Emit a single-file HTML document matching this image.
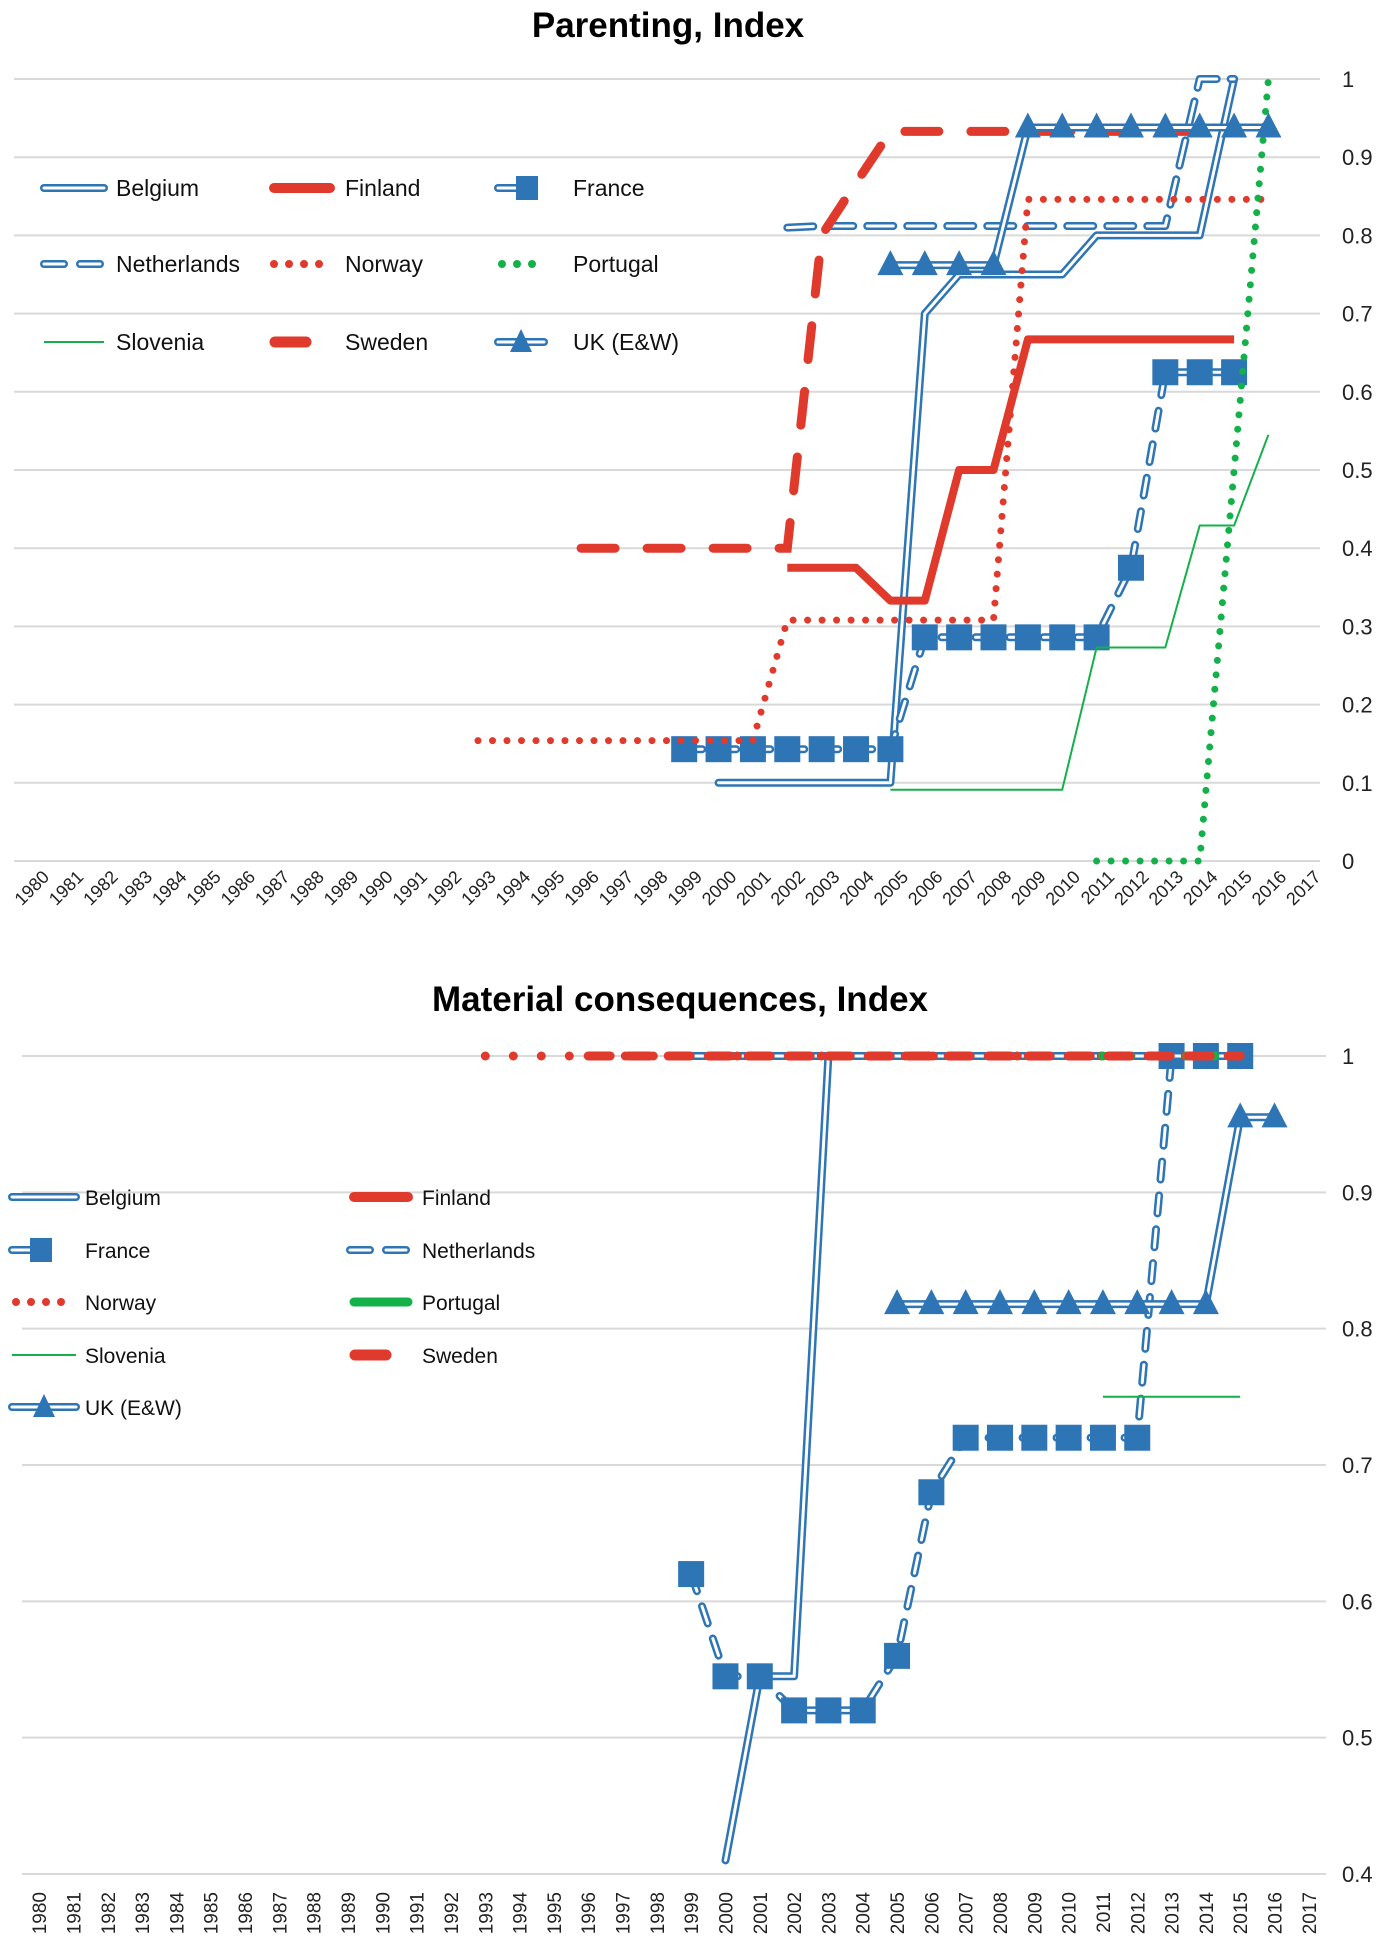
<!DOCTYPE html>
<html><head><meta charset="utf-8"><style>
html,body{margin:0;padding:0;background:#fff;}
svg{display:block;font-family:"Liberation Sans",sans-serif;}
</style></head><body>
<svg id="c" width="1379" height="1942" viewBox="0 0 1379 1942" xmlns="http://www.w3.org/2000/svg">
<text x="668" y="37" text-anchor="middle" font-size="35" font-weight="bold">Parenting, Index</text>
<text x="680" y="1011" text-anchor="middle" font-size="35" font-weight="bold">Material consequences, Index</text>
<g id="top"></g>
<g id="bot"></g>
</svg>
<script>
const years = [];
for (let yv = 1980; yv <= 2017; yv++) years.push(String(yv));
const seriesNames = ["Belgium","Finland","France","Netherlands","Norway","Portugal","Slovenia","Sweden","UK (E&W)"];
const topTicks = ["0","0.1","0.2","0.3","0.4","0.5","0.6","0.7","0.8","0.9","1"];
const botTicks = ["0.4","0.5","0.6","0.7","0.8","0.9","1"];

const pBelgium = [[2000,0.1],[2001,0.1],[2002,0.1],[2003,0.1],[2004,0.1],[2005,0.1],[2006,0.7],[2007,0.75],[2008,0.75],[2009,0.75],[2010,0.75],[2011,0.8],[2012,0.8],[2013,0.8],[2014,0.8],[2015,1.0]];
const pFinland = [[2002,0.375],[2003,0.375],[2004,0.375],[2005,0.333],[2006,0.333],[2007,0.5],[2008,0.5],[2009,0.667],[2010,0.667],[2011,0.667],[2012,0.667],[2013,0.667],[2014,0.667],[2015,0.667]];
const pFrance = [[1999,0.143],[2000,0.143],[2001,0.143],[2002,0.143],[2003,0.143],[2004,0.143],[2005,0.143],[2006,0.286],[2007,0.286],[2008,0.286],[2009,0.286],[2010,0.286],[2011,0.286],[2012,0.375],[2013,0.625],[2014,0.625],[2015,0.625]];
const pNetherlands = [[2002,0.81],[2003,0.812],[2004,0.812],[2005,0.812],[2006,0.812],[2007,0.812],[2008,0.812],[2009,0.812],[2010,0.812],[2011,0.812],[2012,0.812],[2013,0.812],[2014,1.0],[2015,1.0]];
const pNorway = [[1993,0.154],[1994,0.154],[1995,0.154],[1996,0.154],[1997,0.154],[1998,0.154],[1999,0.154],[2000,0.154],[2001,0.154],[2002,0.308],[2003,0.308],[2004,0.308],[2005,0.308],[2006,0.308],[2007,0.308],[2008,0.308],[2009,0.846],[2010,0.846],[2011,0.846],[2012,0.846],[2013,0.846],[2014,0.846],[2015,0.846],[2016,0.846]];
const pPortugal = [[2011,0],[2012,0],[2013,0],[2014,0],[2015,0.5],[2016,1.0]];
const pSlovenia = [[2005,0.091],[2006,0.091],[2007,0.091],[2008,0.091],[2009,0.091],[2010,0.091],[2011,0.273],[2012,0.273],[2013,0.273],[2014,0.429],[2015,0.429],[2016,0.545]];
const pSweden = [[1996,0.4],[1997,0.4],[1998,0.4],[1999,0.4],[2000,0.4],[2001,0.4],[2002,0.4],[2003,0.8],[2004,0.867],[2005,0.933],[2006,0.933],[2007,0.933],[2008,0.933],[2009,0.933],[2010,0.933],[2011,0.933],[2012,0.933],[2013,0.933],[2014,0.933],[2015,0.933]];
const pUK = [[2005,0.762],[2006,0.762],[2007,0.762],[2008,0.762],[2009,0.938],[2010,0.938],[2011,0.938],[2012,0.938],[2013,0.938],[2014,0.938],[2015,0.938],[2016,0.938]];

const mBelgium = [[2000,0.41],[2001,0.545],[2002,0.545],[2003,1],[2004,1],[2005,1],[2006,1],[2007,1],[2008,1],[2009,1],[2010,1],[2011,1],[2012,1],[2013,1],[2014,1],[2015,1]];
const mFinland = [[2002,1],[2003,1],[2004,1],[2005,1],[2006,1],[2007,1],[2008,1],[2009,1],[2010,1],[2011,1],[2012,1],[2013,1],[2014,1],[2015,1]];
const mFrance = [[1999,0.62],[2000,0.545],[2001,0.545],[2002,0.52],[2003,0.52],[2004,0.52],[2005,0.56],[2006,0.68],[2007,0.72],[2008,0.72],[2009,0.72],[2010,0.72],[2011,0.72],[2012,0.72],[2013,1],[2014,1],[2015,1]];
const mNetherlands = [[1999,1],[2000,1],[2001,1],[2002,1],[2003,1],[2004,1],[2005,1],[2006,1],[2007,1],[2008,1],[2009,1],[2010,1],[2011,1],[2012,1],[2013,1],[2014,1],[2015,1]];
const mNorway = [[1993,1],[1994,1],[1995,1],[1996,1],[1997,1],[1998,1],[1999,1],[2000,1],[2001,1],[2002,1],[2003,1],[2004,1],[2005,1],[2006,1],[2007,1],[2008,1],[2009,1],[2010,1],[2011,1],[2012,1],[2013,1],[2014,1],[2015,1]];
const mPortugal = [[2011,1],[2012,1],[2013,1],[2014,1],[2015,1]];
const mSlovenia = [[2011,0.75],[2012,0.75],[2013,0.75],[2014,0.75],[2015,0.75]];
const mSweden = [[1996,1],[1997,1],[1998,1],[1999,1],[2000,1],[2001,1],[2002,1],[2003,1],[2004,1],[2005,1],[2006,1],[2007,1],[2008,1],[2009,1],[2010,1],[2011,1],[2012,1],[2013,1],[2014,1],[2015,1]];
const mUK = [[2005,0.818],[2006,0.818],[2007,0.818],[2008,0.818],[2009,0.818],[2010,0.818],[2011,0.818],[2012,0.818],[2013,0.818],[2014,0.818],[2015,0.955],[2016,0.955]];

const NS="http://www.w3.org/2000/svg";
const BLUE="#2e75b6", RED="#e03a2c", GREEN="#14b04a", GRID="#d9d9d9";
function mk(tag, attrs, parent){const e=document.createElementNS(NS,tag);for(const k in attrs)e.setAttribute(k,attrs[k]);parent.appendChild(e);return e;}

const charts = {
 top:{left:14,right:1320,vTop:1,vBot:0,yTop:79,yBot:861,ticks:topTicks,labX:1342},
 bot:{left:22,right:1326,vTop:1,vBot:0.4,yTop:1056,yBot:1874,ticks:botTicks,labX:1342}
};
function xScale(c,year){const step=(c.right-c.left)/years.length;return c.left+step*(year-1980+0.5);}
function yScale(c,v){return c.yBot-(v-c.vBot)/(c.vTop-c.vBot)*(c.yBot-c.yTop);}

const styles = {
 "Belgium":{type:"double",dash:null},
 "Finland":{type:"solid",color:RED,w:8},
 "France":{type:"double",dash:"18 16",marker:"square"},
 "Netherlands":{type:"double",dash:"26 14"},
 "Norway":{type:"dot",color:RED},
 "Portugal":{type:"dot",color:GREEN},
 "Slovenia":{type:"solid",color:GREEN,w:2},
 "Sweden":{type:"dash",color:RED},
 "UK (E&W)":{type:"double",dash:null,marker:"tri"}
};

function drawLine(g,pts,st,c,name,bottom){
 const d=pts.map((p,i)=>(i?"L":"M")+p[0].toFixed(1)+","+p[1].toFixed(1)).join(" ");
 const grp=mk("g",{},g);
 
 
 if(st.type==="double"){
  const a={d:d,fill:"none",stroke:BLUE,"stroke-width":8,"stroke-linejoin":"round","stroke-linecap":"round"};
  if(st.dash)a["stroke-dasharray"]=st.dash;
  mk("path",a,grp);
  const b={d:d,fill:"none",stroke:"#fff","stroke-width":3,"stroke-linejoin":"round","stroke-linecap":"round"};
  if(st.dash)b["stroke-dasharray"]=st.dash;
  mk("path",b,grp);
 } else if(st.type==="solid"){
  mk("path",{d:d,fill:"none",stroke:st.color,"stroke-width":st.w,"stroke-linejoin":"round"},grp);
 } else if(st.type==="dot"){
  mk("path",{d:d,fill:"none",stroke:st.color,"stroke-width":bottom?9:7,"stroke-dasharray":bottom?"0 28":"0 14.5","stroke-linecap":"round"},grp);
 } else if(st.type==="dash"){
  mk("path",{d:d,fill:"none",stroke:st.color,"stroke-width":9,"stroke-dasharray":bottom?"22 18":"34 32","stroke-linecap":"round"},grp);
 }
 if(st.marker){
  pts.forEach(p=>{
   let m;
   if(st.marker==="square") m=mk("rect",{x:p[0]-13,y:p[1]-13,width:26,height:26,fill:BLUE},grp);
   else m=mk("path",{d:`M${p[0]},${p[1]-15} L${p[0]+13},${p[1]+10} L${p[0]-13},${p[1]+10} Z`,fill:BLUE},grp);
   
   
  });
 }
}

function drawChart(id,c,data,bottom){
 const g=document.getElementById(id);
 c.ticks.forEach(t=>{
  const v=parseFloat(t), y=yScale(c,v);
  const l=mk("line",{x1:c.left,x2:c.right,y1:y,y2:y,stroke:GRID,"stroke-width":2},g);
  
  
  const tx=mk("text",{x:c.labX,y:y+8,"font-size":22,fill:"#222"},g);
  tx.textContent=t;
  
  
 });
 years.forEach((yr,i)=>{
  const x=xScale(c,1980+i);
  let tx;
  if(!bottom){tx=mk("text",{x:x+19,y:878,"font-size":18,"text-anchor":"end",transform:`rotate(-45 ${x+19} 878)`,fill:"#222"},g);}
  else {tx=mk("text",{x:x+7,y:1892,"font-size":19,"text-anchor":"end",transform:`rotate(-90 ${x+7} 1892)`,fill:"#222"},g);}
  tx.textContent=yr;
  
  
 });
 seriesNames.forEach((n,i)=>{
  const pts=data[i].map(p=>[xScale(c,p[0]),yScale(c,p[1])]);
  drawLine(g,pts,styles[n],c,n,bottom);
 });
}
drawChart("top",charts.top,[pBelgium,pFinland,pFrance,pNetherlands,pNorway,pPortugal,pSlovenia,pSweden,pUK],false);
drawChart("bot",charts.bot,[mBelgium,mFinland,mFrance,mNetherlands,mNorway,mPortugal,mSlovenia,mSweden,mUK],true);

function legendSample(g,n,x1,x2,y,bottom){
 const st=styles[n];
 const pts=[[x1,y],[x2,y]];
 if(n==="France"){
  drawLine(g,[[x1,y],[x1+20,y]],{type:"double"},null,n,bottom);
  mk("rect",{x:x1+18,y:y-12,width:22,height:24,fill:BLUE},g);
  return;
 }
 if(n==="UK (E&W)"){
  drawLine(g,pts,{type:"double"},null,n,bottom);
  const m=(x1+x2)/2;
  mk("path",{d:`M${m},${y-13} L${m+11},${y+10} L${m-11},${y+10} Z`,fill:BLUE},g);
  return;
 }
 if(n==="Netherlands"){drawLine(g,pts,{type:"double",dash:"20 16"},null,n,bottom);return;}
 if(n==="Sweden"){mk("path",{d:`M${x1+5},${y} L${x1+36},${y}`,stroke:RED,"stroke-width":11,"stroke-linecap":"round"},g);return;}
 if(n==="Portugal"&&bottom){mk("path",{d:`M${x1+4},${y} L${x2-4},${y}`,stroke:GREEN,"stroke-width":9,"stroke-linecap":"round"},g);return;}
 if(n==="Finland"){mk("path",{d:`M${x1+4},${y} L${x2-4},${y}`,stroke:RED,"stroke-width":10,"stroke-linecap":"round"},g);return;}
 if(st.type==="dot"){mk("path",{d:`M${x1+4},${y} L${x2},${y}`,stroke:st.color,"stroke-width":8,"stroke-dasharray":"0 15","stroke-linecap":"round"},g);return;}
 drawLine(g,pts,st,null,n,bottom);
}
(function(){
 const g=mk("g",{},document.getElementById("c"));
 
 
 const rows=[188,264,342], sx=[[44,104],[270,334],[498,544]], tx=[116,345,573];
 seriesNames.forEach((n,i)=>{
  const r=Math.floor(i/3), col=i%3;
  const e=mk("g",{},g);
  
  
  legendSample(e,n,sx[col][0],sx[col][1],rows[r],false);
  const t=mk("text",{x:tx[col],y:rows[r]+8,"font-size":23,fill:"#111"},e);
  t.textContent=n;
 });
})();
(function(){
 const g=mk("g",{},document.getElementById("c"));
 
 
 const rows=[1197,1250,1302,1355,1407], sx=[[12,76],[350,412]], tx=[85,422];
 seriesNames.forEach((n,i)=>{
  const r=Math.floor(i/2), col=i%2;
  const e=mk("g",{},g);
  
  
  legendSample(e,n,sx[col][0],sx[col][1],rows[r],true);
  const t=mk("text",{x:tx[col],y:rows[r]+8,"font-size":21,fill:"#111"},e);
  t.textContent=n;
 });
})();
</script>
</body></html>
